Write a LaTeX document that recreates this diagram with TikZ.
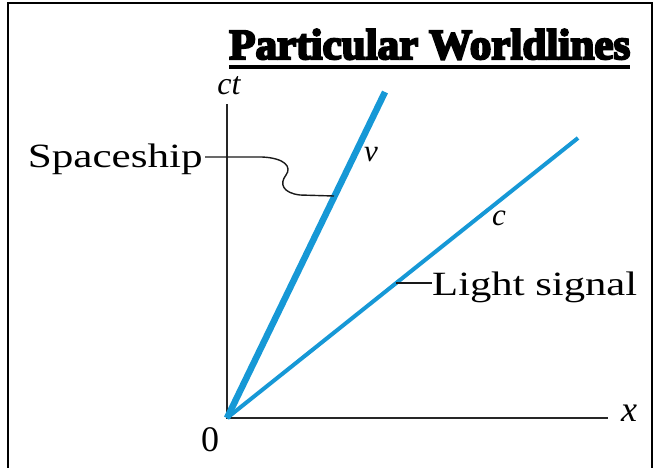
\documentclass[tikz,border=0pt]{standalone}
\usepackage{fontspec}
\usepackage{graphicx}
\setmainfont{Liberation Serif}
\newfontface\titlefont{Liberation Serif Bold}[FakeBold=5]
\definecolor{wlblue}{RGB}{22,152,214}
\tikzset{
  frameline/.style={line width=2.4pt,black},
  axisline/.style={line width=2pt,black!85},
  shipline/.style={line width=6.5pt,wlblue},
  lightline/.style={line width=4pt,wlblue},
  leader/.style={line width=1.4pt,black!90},
  lbl/.style={inner sep=0pt,font=\fontsize{34}{36}\selectfont},
  axlbl/.style={inner sep=0pt,font=\fontsize{32}{36}\selectfont\itshape},
}
\begin{document}
\begin{tikzpicture}[x=1pt,y=-1pt]
\useasboundingbox (0,0) rectangle (658,467);
% frame
\coordinate (fbl) at (8,470);
\coordinate (ftl) at (8,3);
\coordinate (ftr) at (652,3);
\coordinate (fbr) at (652,470);
\draw[frameline] (fbl) -- (ftl) -- (ftr) -- (fbr);
% title
\node[inner sep=0pt,anchor=base west] (title) at (229,59)
  {\resizebox{401pt}{\height}{\titlefont\fontsize{43}{46}\selectfont Particular Worldlines}};
\draw[line width=3.2pt] ([yshift=-8pt]title.base west) -- ([yshift=-8pt]title.base east);
% axes
\coordinate (O) at (227,418);
\coordinate (ytop) at (227,104);
\coordinate (xend) at (608,418);
\draw[axisline] (ytop) -- (O) -- (xend);
\node[axlbl] (ct) at (229,86) {ct};
\node[axlbl,font=\fontsize{36}{38}\selectfont\itshape] (xl) at (629,413) {x};
\node[inner sep=0pt,font=\fontsize{36}{38}\selectfont] (zero) at (210,440) {0};
% worldlines
\coordinate (stop) at (385,92);
\coordinate (ltop) at (578,138);
\draw[lightline] (O) -- (ltop);
\draw[shipline] (O) -- (stop);
\node[axlbl,font=\fontsize{31}{34}\selectfont\itshape] (v) at (371,155) {v};
\node[axlbl,font=\fontsize{31}{34}\selectfont\itshape] (c) at (499,218) {c};
% labels
\node[lbl,anchor=base east] (ship) at (203,167) {\resizebox{175pt}{\height}{Spaceship}};
\node[lbl,anchor=base west] (light) at (432,295) {\resizebox{205pt}{\height}{Light signal}};
% leaders
\coordinate (sp) at (334,196);
\coordinate (lp) at (396,283);
\draw[leader] ([xshift=2pt]ship.east |- 0,157) -- (262,157)
  .. controls (285,158) and (292,167) .. (286,175)
  .. controls (279,184) and (283,193) .. (300,195)
  -- (sp);
\draw[leader] (lp) -- (light.west |- lp);
\end{tikzpicture}
\end{document}
